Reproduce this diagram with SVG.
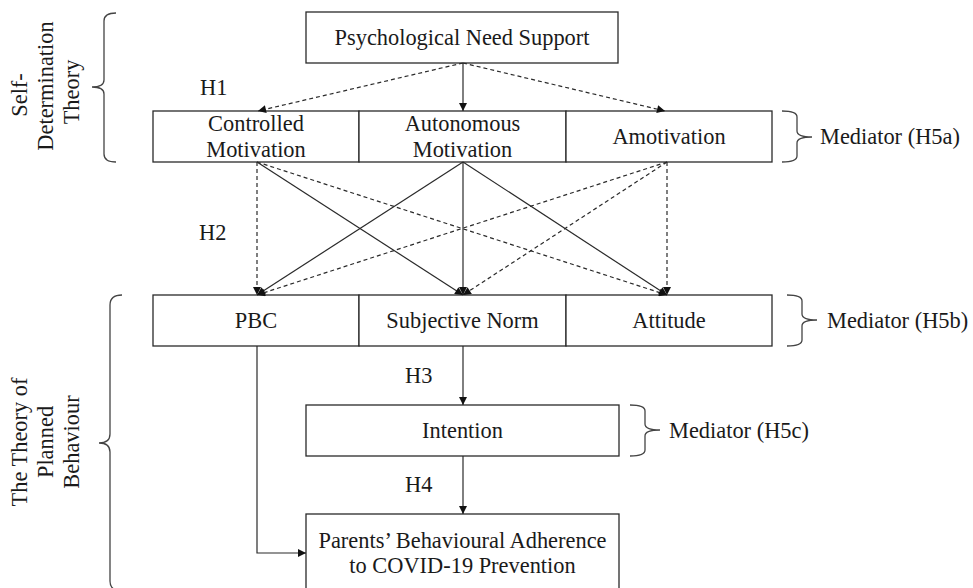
<svg xmlns="http://www.w3.org/2000/svg" width="973" height="588" viewBox="0 0 973 588">
<defs>
<style>
.box{fill:#fff;stroke:#2a2a2a;stroke-width:1.3}
.t{font-family:"Liberation Serif","Times New Roman",serif;font-size:22.4px;fill:#1a1a1a}
.c{text-anchor:middle}
.ln{fill:none;stroke:#2a2a2a;stroke-width:1.2}
.dash{stroke-dasharray:4 3}
.br{fill:none;stroke:#444;stroke-width:1.3}
</style>
<marker id="ah" viewBox="0 0 10 10" refX="10" refY="5" markerWidth="9" markerHeight="8" markerUnits="userSpaceOnUse" orient="auto">
<path d="M0,0 L10,5 L0,10 z" fill="#111"/>
</marker>
</defs>
<rect width="973" height="588" fill="#fff"/>

<g id="label-sdt">
<path class="br" d="M116,13 Q104,13 104,21 L104,80 Q104,87 92,87 Q104,87 104,94 L104,154 Q104,162 116,162"/>
<text class="t c" transform="translate(27,95) rotate(-90)">Self-</text>
<text class="t c" transform="translate(53,86) rotate(-90)">Determination</text>
<text class="t c" transform="translate(79,92) rotate(-90)">Theory</text>
</g>

<g id="label-tpb">
<path class="br" d="M122,295 Q110,295 110,305 L110,434 Q110,443 99,443 Q110,443 110,452 L110,581 Q110,591 122,591"/>
<text class="t c" transform="translate(27,442) rotate(-90)">The Theory of</text>
<text class="t c" transform="translate(53,442) rotate(-90)">Planned</text>
<text class="t c" transform="translate(79,442) rotate(-90)">Behaviour</text>
</g>

<g id="node-pns">
<rect class="box" x="306" y="12" width="312" height="51"/>
<text class="t c" x="462" y="45">Psychological Need Support</text>
</g>

<g id="node-controlled">
<rect class="box" x="153" y="111" width="206" height="51"/>
<text class="t c" x="256" y="131">Controlled</text>
<text class="t c" x="256" y="157">Motivation</text>
</g>
<g id="node-autonomous">
<rect class="box" x="359" y="111" width="207" height="51"/>
<text class="t c" x="462.5" y="131">Autonomous</text>
<text class="t c" x="462.5" y="157">Motivation</text>
</g>
<g id="node-amotivation">
<rect class="box" x="566" y="111" width="206" height="51"/>
<text class="t c" x="669" y="144">Amotivation</text>
</g>
<g id="mediator-h5a">
<path class="br" d="M782,111 Q797,111 797,117 L797,131 Q797,137 812,137 Q797,137 797,143 L797,156 Q797,162 782,162"/>
<text class="t" x="820" y="144">Mediator (H5a)</text>
</g>

<g id="node-pbc">
<rect class="box" x="153" y="295" width="206" height="51"/>
<text class="t c" x="256" y="328">PBC</text>
</g>
<g id="node-sn">
<rect class="box" x="359" y="295" width="207" height="51"/>
<text class="t c" x="462.5" y="328">Subjective Norm</text>
</g>
<g id="node-attitude">
<rect class="box" x="566" y="295" width="206" height="51"/>
<text class="t c" x="669" y="328">Attitude</text>
</g>
<g id="mediator-h5b">
<path class="br" d="M787,295 Q802,295 802,301 L802,314 Q802,320 817,320 Q802,320 802,326 L802,340 Q802,346 787,346"/>
<text class="t" x="827" y="328">Mediator (H5b)</text>
</g>

<g id="node-intention">
<rect class="box" x="306" y="405" width="313" height="51"/>
<text class="t c" x="462.5" y="438">Intention</text>
</g>
<g id="mediator-h5c">
<path class="br" d="M630,405 Q645,405 645,411 L645,424 Q645,430 660,430 Q645,430 645,436 L645,450 Q645,456 630,456"/>
<text class="t" x="669" y="438">Mediator (H5c)</text>
</g>

<g id="node-adherence">
<rect class="box" x="306" y="514" width="313" height="90"/>
<text class="t c" x="462.5" y="548">Parents’ Behavioural Adherence</text>
<text class="t c" x="462.5" y="573">to COVID-19 Prevention</text>
</g>

<g id="connectors">
<line class="ln dash" x1="463" y1="63" x2="258" y2="111" marker-end="url(#ah)"/>
<line class="ln" x1="463" y1="63" x2="463" y2="111" marker-end="url(#ah)"/>
<line class="ln dash" x1="463" y1="63" x2="665" y2="111" marker-end="url(#ah)"/>

<line class="ln dash" x1="257" y1="162" x2="257" y2="295" marker-end="url(#ah)"/>
<line class="ln" x1="257" y1="162" x2="463" y2="295" marker-end="url(#ah)"/>
<line class="ln dash" x1="257" y1="162" x2="667" y2="295" marker-end="url(#ah)"/>

<line class="ln" x1="463" y1="162" x2="257" y2="295" marker-end="url(#ah)"/>
<line class="ln" x1="463" y1="162" x2="463" y2="295" marker-end="url(#ah)"/>
<line class="ln" x1="463" y1="162" x2="667" y2="295" marker-end="url(#ah)"/>

<line class="ln dash" x1="667" y1="162" x2="257" y2="295" marker-end="url(#ah)"/>
<line class="ln dash" x1="667" y1="162" x2="463" y2="295" marker-end="url(#ah)"/>
<line class="ln dash" x1="667" y1="162" x2="667" y2="295" marker-end="url(#ah)"/>

<line class="ln" x1="463" y1="346" x2="463" y2="405" marker-end="url(#ah)"/>
<line class="ln" x1="463" y1="456" x2="463" y2="514" marker-end="url(#ah)"/>
<polyline class="ln" points="257,346 257,553 306,553" marker-end="url(#ah)"/>
</g>

<g id="hyp-labels">
<text class="t" x="200" y="95">H1</text>
<text class="t" x="199" y="240">H2</text>
<text class="t" x="405" y="383">H3</text>
<text class="t" x="405" y="492">H4</text>
</g>
</svg>
